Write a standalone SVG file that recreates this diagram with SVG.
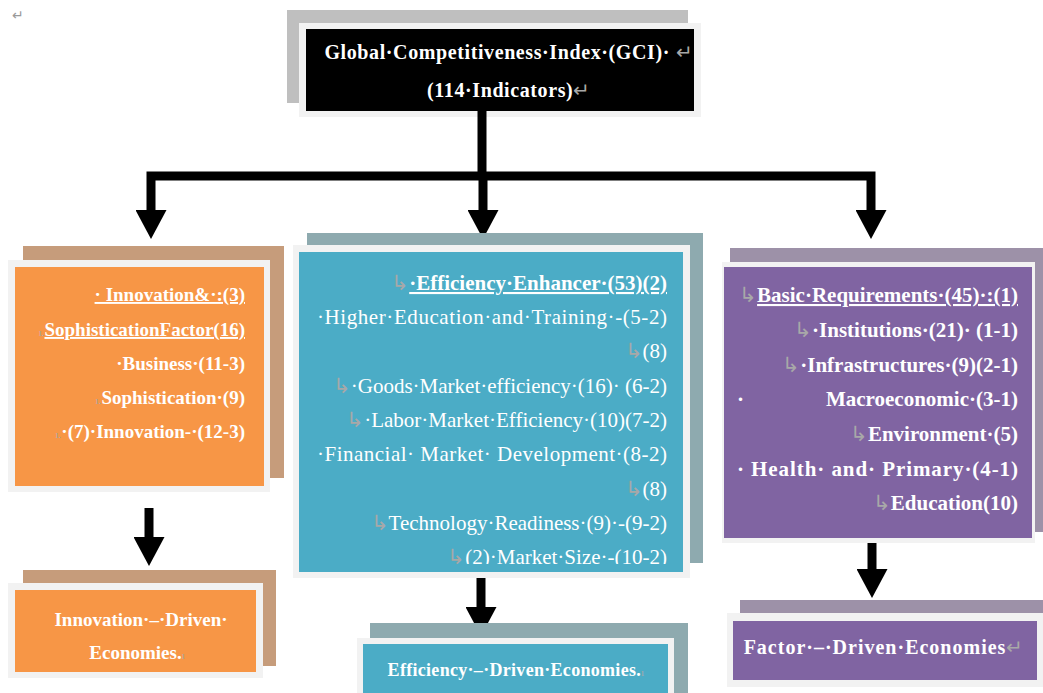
<svg xmlns="http://www.w3.org/2000/svg" width="1043" height="693" viewBox="0 0 1043 693">
<style>
.t{font-family:"Liberation Serif","Times New Roman",serif;fill:#fff}
.b{font-weight:bold}
.m{fill:#a8a8a8;font-weight:normal}
.u{text-decoration:underline}
.frame{fill:#f2f2f2}
.conn{fill:none;stroke:#000;stroke-width:9;stroke-linejoin:miter}
</style>
<defs>
<marker id="ah" markerUnits="userSpaceOnUse" markerWidth="29" markerHeight="31" refX="0" refY="15.5" orient="auto" viewBox="0 0 29 31">
<path d="M0,0 L29,15.5 L0,31 Z" fill="#000"/>
</marker>
<clipPath id="midclip"><rect x="299" y="252" width="384" height="312"/></clipPath>
</defs>
<rect width="1043" height="693" fill="#fff"/>
<text x="12" y="20" font-family="Liberation Serif,serif" font-size="14" fill="#9a9a9a">↵</text>

<g id="gci">
<rect x="287" y="10" width="401" height="93" fill="#bfbfbf"/>
<rect class="frame" x="299" y="23" width="402" height="94"/>
<rect x="306" y="29" width="388" height="82" fill="#000"/>
<text class="t b" font-size="20" x="509" y="59" text-anchor="middle" letter-spacing="0.6">Global·Competitiveness·Index·(GCI)·<tspan class="m" dx="6">↵</tspan></text>
<text class="t b" font-size="20" x="509" y="97" text-anchor="middle" letter-spacing="0.6">(114·Indicators)<tspan class="m">↵</tspan></text>
</g>

<g id="connectors">
<path class="conn" d="M482 111 V176"/>
<path class="conn" d="M482 176 H151 V210" marker-end="url(#ah)"/>
<path class="conn" d="M482 176 H871 V210" marker-end="url(#ah)"/>
<path class="conn" d="M483 176 V210" marker-end="url(#ah)"/>
<path class="conn" d="M149 508 V537" marker-end="url(#ah)"/>
<path class="conn" d="M481 577 V607" marker-end="url(#ah)"/>
<path class="conn" d="M872 540 V569" marker-end="url(#ah)"/>
</g>

<g id="innovation-factor">
<rect x="23" y="246" width="261" height="232" fill="#c69c7b"/>
<rect class="frame" x="8" y="260" width="262" height="232"/>
<rect x="15" y="267" width="249" height="219" fill="#f79646"/>
<g class="t b" font-size="19" text-anchor="end">
<text x="245" y="301"><tspan class="u">·  Innovation&amp;·:(3)</tspan></text>
<text x="245" y="336"><tspan class="m" font-size="11">ı.</tspan><tspan class="u">SophisticationFactor(16)</tspan></text>
<text x="245" y="370">·Business·(11-3)</text>
<text x="245" y="404"><tspan class="m" font-size="11">ı.</tspan>Sophistication·(9)</text>
<text x="245" y="438"><tspan class="m" font-size="11">ı.</tspan>·(7)·Innovation-·(12-3)</text>
</g>
</g>

<g id="efficiency-enhancer">
<rect x="307" y="233" width="396" height="330" fill="#8eaaaf"/>
<rect class="frame" x="293" y="245" width="397" height="333"/>
<rect x="299" y="252" width="384" height="320" fill="#4bacc6"/>
<g class="t" font-size="21" clip-path="url(#midclip)">
<text x="667" y="290" text-anchor="end"><tspan class="m">↳</tspan><tspan class="u b">·Efficiency·Enhancer·(53)(2)</tspan></text>
<text x="317" y="324" textLength="350" lengthAdjust="spacing">·Higher·Education·and·Training·-(5-2)</text>
<text x="667" y="358" text-anchor="end"><tspan class="m">↳</tspan>(8)</text>
<text x="667" y="393" text-anchor="end"><tspan class="m">↳</tspan>·Goods·Market·efficiency·(16)· (6-2)</text>
<text x="667" y="427" text-anchor="end"><tspan class="m">↳</tspan>·Labor·Market·Efficiency·(10)(7-2)</text>
<text x="317" y="461" textLength="350" lengthAdjust="spacing">·Financial· Market· Development·(8-2)</text>
<text x="667" y="496" text-anchor="end"><tspan class="m">↳</tspan>(8)</text>
<text x="667" y="530" text-anchor="end"><tspan class="m">↳</tspan>Technology·Readiness·(9)·-(9-2)</text>
<text x="667" y="564" text-anchor="end"><tspan class="m">↳</tspan>(2)·Market·Size·-(10-2)</text>
</g>
</g>

<g id="basic-requirements">
<rect x="730" y="248" width="313" height="284" fill="#9d91a8"/>
<rect class="frame" x="722" y="262" width="313" height="281"/>
<rect x="724" y="267" width="308" height="271" fill="#8064a2"/>
<g class="t b" font-size="21">
<text x="1018" y="302" text-anchor="end"><tspan class="m">↳</tspan><tspan class="u">Basic·Requirements·(45)·:(1)</tspan></text>
<text x="1018" y="337" text-anchor="end"><tspan class="m">↳</tspan>·Institutions·(21)· (1-1)</text>
<text x="1018" y="372" text-anchor="end"><tspan class="m">↳</tspan>·Infrastructures·(9)(2-1)</text>
<text x="737" y="406">·</text>
<text x="1018" y="406" text-anchor="end">Macroeconomic·(3-1)</text>
<text x="1018" y="441" text-anchor="end"><tspan class="m">↳</tspan>Environment·(5)</text>
<text x="737" y="476" textLength="281" lengthAdjust="spacing">· Health·  and·  Primary·(4-1)</text>
<text x="1018" y="510" text-anchor="end"><tspan class="m">↳</tspan>Education(10)</text>
</g>
</g>

<g id="innovation-driven">
<rect x="23" y="570" width="253" height="96" fill="#c69c7b"/>
<rect class="frame" x="8" y="583" width="255" height="95"/>
<rect x="15" y="590" width="241" height="82" fill="#f79646"/>
<text class="t b" font-size="19" x="141" y="626" text-anchor="middle">Innovation·–·Driven·</text>
<text class="t b" font-size="19" x="137" y="659" text-anchor="middle">Economies.<tspan class="m" font-size="11">ı</tspan></text>
</g>

<g id="efficiency-driven">
<rect x="370" y="623" width="318" height="70" fill="#8eaaaf"/>
<rect class="frame" x="357" y="638" width="317" height="55"/>
<rect x="363" y="644" width="305" height="49" fill="#4bacc6"/>
<text class="t b" font-size="18" x="516" y="676" text-anchor="middle" letter-spacing="0.3">Efficiency·–·Driven·Economies.<tspan class="m" font-size="11">ı</tspan></text>
</g>

<g id="factor-driven">
<rect x="740" y="600" width="303" height="75" fill="#9d91a8"/>
<rect class="frame" x="727" y="613" width="316" height="74"/>
<rect x="733" y="621" width="304" height="59" fill="#8064a2"/>
<text class="t b" font-size="20" x="884" y="654" text-anchor="middle" letter-spacing="1">Factor·–·Driven·Economies<tspan class="m">↵</tspan></text>
</g>
</svg>
